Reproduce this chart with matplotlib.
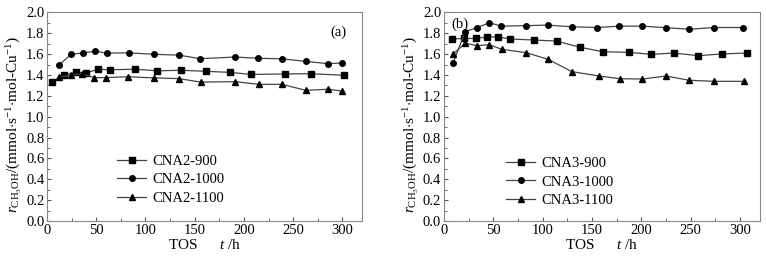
import matplotlib

matplotlib.use("Agg")
import matplotlib.pyplot as plt
from matplotlib.ticker import MultipleLocator

plt.rcParams["font.family"] = ["Liberation Serif", "DejaVu Serif"]
plt.rcParams["mathtext.fontset"] = "custom"
plt.rcParams["mathtext.rm"] = "Liberation Serif"
plt.rcParams["mathtext.it"] = "Liberation Serif:italic"

# panel (a)
t_a900 = [5, 17, 29, 40, 52, 64, 89, 112, 136, 162, 186, 207, 242, 268, 302]
r_a900 = [1.335, 1.40, 1.425, 1.42, 1.455, 1.45, 1.455, 1.44, 1.445, 1.435, 1.425, 1.405, 1.41, 1.412, 1.397]
t_a1000 = [12, 24.5, 37, 49, 60.5, 83, 109, 134, 155.5, 191, 214, 238.5, 263, 285.5, 300]
r_a1000 = [1.495, 1.598, 1.612, 1.628, 1.61, 1.612, 1.598, 1.59, 1.556, 1.572, 1.56, 1.555, 1.53, 1.508, 1.515]
t_a1100 = [12, 24.5, 35.5, 48, 60, 82.5, 108.5, 134, 156, 191, 215, 238.5, 263, 285.5, 300]
r_a1100 = [1.378, 1.40, 1.41, 1.375, 1.375, 1.383, 1.372, 1.365, 1.332, 1.336, 1.31, 1.31, 1.253, 1.263, 1.246]

# panel (b)
t_b900 = [8, 20, 32.5, 43.5, 55, 67, 91, 114, 138, 161, 187, 210, 233, 257.5, 282, 306.5]
r_b900 = [1.745, 1.75, 1.75, 1.765, 1.765, 1.745, 1.735, 1.725, 1.665, 1.623, 1.617, 1.598, 1.61, 1.585, 1.602, 1.61]
t_b1000 = [9, 21.5, 33.5, 46, 58, 83, 105, 129.5, 155, 177.5, 201, 225, 248.5, 273.5, 303]
r_b1000 = [1.51, 1.815, 1.855, 1.90, 1.868, 1.873, 1.878, 1.862, 1.855, 1.868, 1.868, 1.853, 1.838, 1.855, 1.855]
t_b1100 = [9, 21.5, 33.5, 46, 58.5, 83, 105.5, 129.5, 157, 178, 201, 225, 248.5, 273.5, 303.5]
r_b1100 = [1.598, 1.704, 1.681, 1.69, 1.646, 1.614, 1.55, 1.432, 1.39, 1.364, 1.361, 1.39, 1.349, 1.339, 1.339]

MARKERS = ["s", "o", "^"]
YLABEL = r"$r_{\mathrm{CH_3OH}}$/(mmol$\cdot$s$^{-1}$$\cdot$mol-Cu$^{-1}$)"
XLABEL = r"TOS      $t$ /h"

fig = plt.figure(figsize=(7.66, 2.58), dpi=100)
ax_a = fig.add_axes([0.0614, 0.1434, 0.4112, 0.8086])
ax_b = fig.add_axes([0.5796, 0.1434, 0.4124, 0.8086])

panels = [
    (ax_a, [(t_a900, r_a900, "CNA2-900"), (t_a1000, r_a1000, "CNA2-1000"),
            (t_a1100, r_a1100, "CNA2-1100")], "(a)", (0.924, 0.905), (0.204, 0.05)),
    (ax_b, [(t_b900, r_b900, "CNA3-900"), (t_b1000, r_b1000, "CNA3-1000"),
            (t_b1100, r_b1100, "CNA3-1100")], "(b)", (0.05, 0.945), (0.178, 0.04)),
]

for ax, series, tag, tag_pos, leg_pos in panels:
    for (t, r, lab), mk in zip(series, MARKERS):
        ax.plot(t, r, color="#444444", lw=0.9, marker=mk, ms=4.0,
                mfc="black", mec="black", label=lab)
    ax.set_xlim(0, 320)
    ax.set_ylim(0, 2.0)
    ax.xaxis.set_minor_locator(MultipleLocator(25))
    ax.yaxis.set_major_locator(MultipleLocator(0.2))
    ax.yaxis.set_minor_locator(MultipleLocator(0.1))
    ax.set_xticks([0, 50, 100, 150, 200, 250, 300])
    ax.tick_params(which="both", direction="in", top=False, right=False,
                   labelsize=10.5, color="#555555", pad=2)
    ax.tick_params(which="major", length=3)
    ax.tick_params(which="minor", length=2)
    for sp in ax.spines.values():
        sp.set_color("#888888")
        sp.set_linewidth(0.8)
    ax.set_xlabel(XLABEL, fontsize=11, labelpad=1)
    ax.set_ylabel(YLABEL, fontsize=11, labelpad=1, y=0.46)
    ax.text(*tag_pos, tag, transform=ax.transAxes, fontsize=10.5,
            ha="center", va="center")
    ax.legend(loc="lower left", bbox_to_anchor=leg_pos, frameon=False,
              fontsize=10.5, handlelength=2.0, handletextpad=0.4,
              labelspacing=0.35, borderaxespad=0)

fig.savefig("out.png", dpi=100)
plt.close(fig)
